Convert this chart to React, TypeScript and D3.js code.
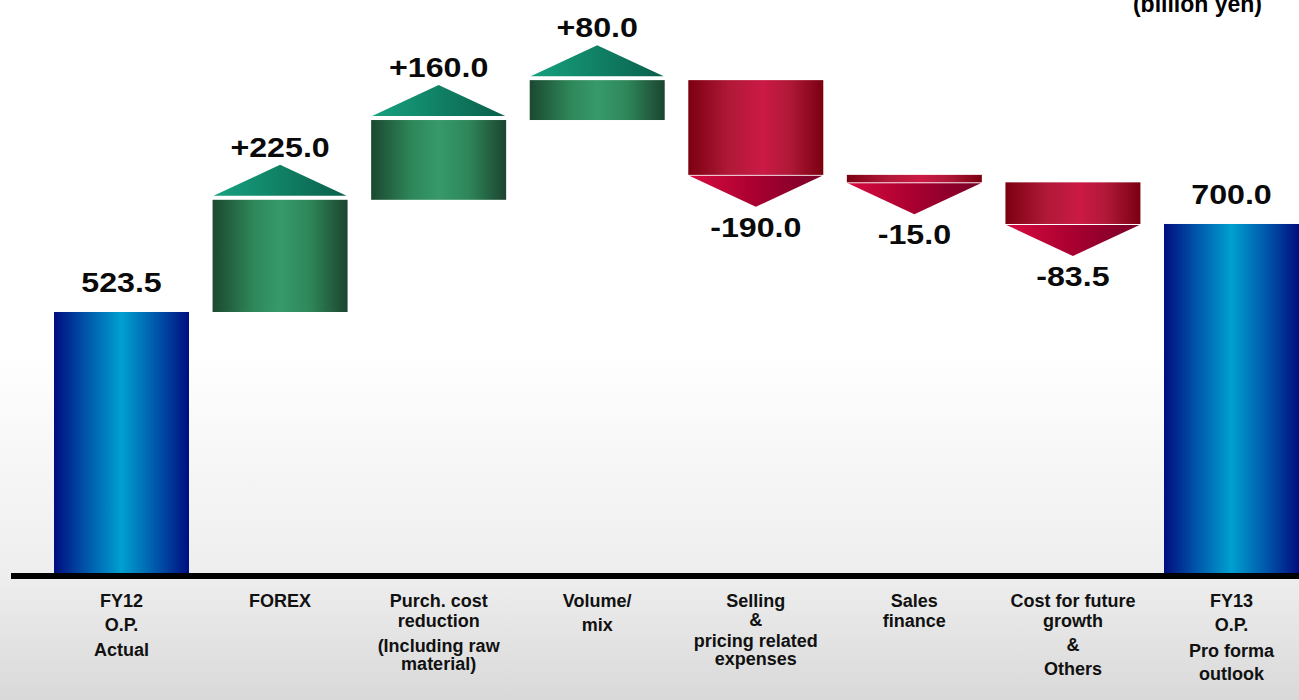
import React from "react";
import * as d3 from "d3";

const categories: string[][] = [
  ["FY12", "O.P.", "Actual"],
  ["FOREX"],
  ["Purch. cost", "reduction", "(Including raw", "material)"],
  ["Volume/", "mix"],
  ["Selling", "&", "pricing related", "expenses"],
  ["Sales", "finance"],
  ["Cost for future", "growth", "&", "Others"],
  ["FY13", "O.P.", "Pro forma", "outlook"],
];
const kinds = ["total", "delta", "delta", "delta", "delta", "delta", "delta", "total"];
const values = [523.5, 225.0, 160.0, 80.0, -190.0, -15.0, -83.5, 700.0];
const valueLabels = ["523.5", "+225.0", "+160.0", "+80.0", "-190.0", "-15.0", "-83.5", "700.0"];
const unitLabel = "(billion yen)";

// line baselines offsets (styling) for category labels
const lineOffsets: number[][] = [
  [0, 24, 49],
  [0],
  [0, 20, 45, 63],
  [0, 24],
  [0, 19, 40, 58],
  [0, 20],
  [0, 20, 44, 68],
  [0, 24, 50, 73],
];

const W = 1299;
const H = 700;
const FONT = "'Liberation Sans', Arial, Helvetica, sans-serif";

function ValueLabel({ x, y, text }: { x: number; y: number; text: string }) {
  return (
    <text
      transform={`translate(${x},${y}) scale(1.15,1)`}
      textAnchor="middle"
      fontSize={28}
      fontWeight="bold"
      fill="#0a0a0a"
    >
      {text}
    </text>
  );
}

export default function App() {
  const x = d3
    .scalePoint<number>()
    .domain(d3.range(categories.length))
    .range([121.5, 1231.5]);
  const y = d3.scaleLinear().domain([0, 1000]).range([573, 74.4]);
  const barW = 135;
  const triH = 31;

  let running = 0;
  const segs = values.map((v, i) => {
    let start: number, end: number;
    if (kinds[i] === "total") {
      start = 0;
      end = v;
      running = v;
    } else {
      start = running;
      end = running + v;
      running = end;
    }
    return { start, end, v, i, kind: kinds[i] };
  });

  return (
    <svg
      width={W}
      height={H}
      style={{ position: "absolute", left: 0, top: 0, display: "block" }}
      fontFamily={FONT}
    >
      <defs>
        <linearGradient id="bg" x1="0" y1="0" x2="0" y2="1">
          <stop offset="0" stopColor="#ffffff" />
          <stop offset="0.5" stopColor="#ffffff" />
          <stop offset="0.82" stopColor="#eeeeee" />
          <stop offset="1" stopColor="#d9d9d9" />
        </linearGradient>
        <linearGradient id="blue" x1="0" y1="0" x2="1" y2="0">
          <stop offset="0" stopColor="#000d7f" />
          <stop offset="0.25" stopColor="#0059ac" />
          <stop offset="0.5" stopColor="#00a0d0" />
          <stop offset="0.75" stopColor="#0059ac" />
          <stop offset="1" stopColor="#000d7f" />
        </linearGradient>
        <linearGradient id="green" x1="0" y1="0" x2="1" y2="0">
          <stop offset="0" stopColor="#1b4830" />
          <stop offset="0.3" stopColor="#2e8759" />
          <stop offset="0.5" stopColor="#37996b" />
          <stop offset="0.72" stopColor="#2e8759" />
          <stop offset="1" stopColor="#1b4430" />
        </linearGradient>
        <linearGradient id="teal" x1="0" y1="0" x2="1" y2="0">
          <stop offset="0" stopColor="#17a27f" />
          <stop offset="1" stopColor="#0a5f4b" />
        </linearGradient>
        <linearGradient id="red" x1="0" y1="0" x2="1" y2="0">
          <stop offset="0" stopColor="#7c0010" />
          <stop offset="0.3" stopColor="#b01838" />
          <stop offset="0.55" stopColor="#cb1a45" />
          <stop offset="0.75" stopColor="#b01838" />
          <stop offset="1" stopColor="#7a0010" />
        </linearGradient>
        <linearGradient id="redTri" x1="0" y1="0" x2="1" y2="0">
          <stop offset="0" stopColor="#d80b40" />
          <stop offset="0.5" stopColor="#a80030" />
          <stop offset="1" stopColor="#780028" />
        </linearGradient>
      </defs>
      <rect x={0} y={0} width={W} height={H} fill="url(#bg)" />

      {segs.map((s) => {
        const cx = x(s.i)!;
        const x0 = cx - barW / 2;
        const top = y(Math.max(s.start, s.end));
        const bot = y(Math.min(s.start, s.end));
        const elems: React.ReactNode[] = [];
        if (s.kind === "total") {
          elems.push(
            <rect key="b" x={x0} y={top} width={barW} height={bot - top} fill="url(#blue)" />
          );
          elems.push(<ValueLabel key="t" x={cx} y={top - 20} text={valueLabels[s.i]} />);
        } else if (s.v > 0) {
          elems.push(
            <rect key="b" x={x0} y={top} width={barW} height={bot - top} fill="url(#green)" />
          );
          const base = top - 4;
          const apex = base - triH;
          elems.push(
            <path
              key="tri"
              d={`M${x0 + 1},${base}L${cx},${apex}L${x0 + barW - 1},${base}Z`}
              fill="url(#teal)"
            />
          );
          elems.push(<ValueLabel key="t" x={cx} y={apex - 8} text={valueLabels[s.i]} />);
        } else {
          elems.push(
            <rect key="b" x={x0} y={top} width={barW} height={bot - top} fill="url(#red)" />
          );
          const base = bot + 1;
          const apex = base + triH;
          elems.push(
            <path
              key="tri"
              d={`M${x0 + 1},${base}L${cx},${apex}L${x0 + barW - 1},${base}Z`}
              fill="url(#redTri)"
            />
          );
          elems.push(<ValueLabel key="t" x={cx} y={apex + 30} text={valueLabels[s.i]} />);
        }
        return <g key={s.i}>{elems}</g>;
      })}

      <rect x={11} y={573} width={W - 11} height={6} fill="#000" />

      {categories.map((lines, i) => (
        <text
          key={i}
          x={x(i)!}
          textAnchor="middle"
          fontSize={18}
          fontWeight="bold"
          fill="#111"
        >
          {lines.map((ln, j) => (
            <tspan key={j} x={x(i)!} y={607 + lineOffsets[i][j]}>
              {ln}
            </tspan>
          ))}
        </text>
      ))}

      <text
        x={1262}
        y={12}
        textAnchor="end"
        fontSize={23}
        fontWeight="bold"
        fill="#000"
      >
        {unitLabel}
      </text>
    </svg>
  );
}
